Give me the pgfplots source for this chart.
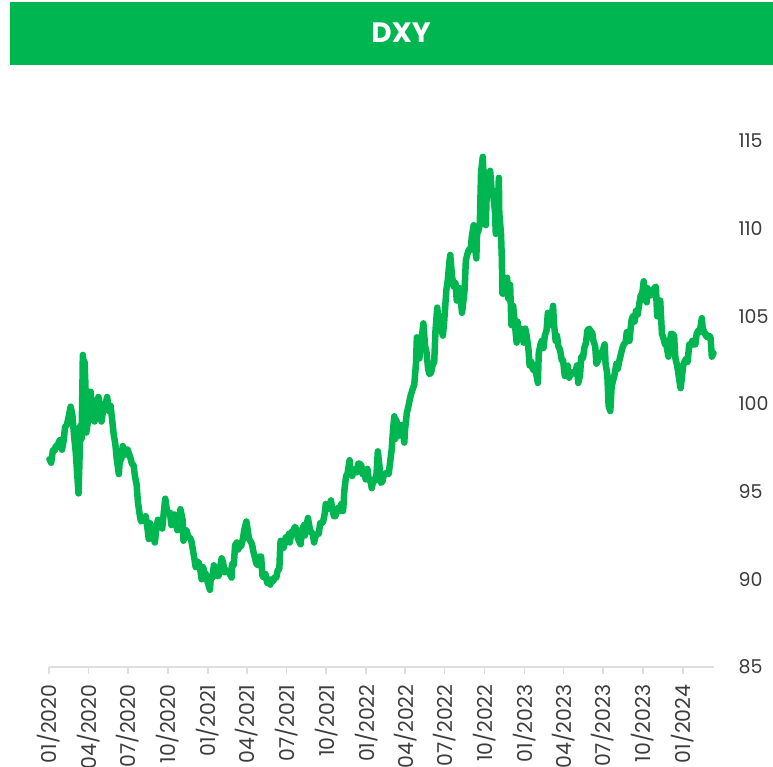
\documentclass[border=0pt]{standalone}
\usepackage{pgfplots}
\pgfplotsset{compat=1.18}
\usepgfplotslibrary{dateplot}
\usepackage{fontspec}
\setmainfont{Poppins}
\definecolor{dxygreen}{RGB}{0,182,80}
\definecolor{ticktext}{RGB}{60,60,60}
\begin{document}
\begin{tikzpicture}[x=1pt,y=1pt]
\useasboundingbox (0,0) rectangle (773,766);
\fill[dxygreen] (10,701) rectangle (773,764);
\node[text=white, font=\fontsize{28}{30}\selectfont\bfseries] at (401,733) {DXY};
\begin{axis}[
  at={(49pt,99pt)}, anchor=south west,
  scale only axis, width=665pt, height=526pt,
  date coordinates in=x, date ZERO=2020-01-01,
  xmin=2020-01-01, xmax=2024-03-13,
  ymin=85, ymax=115,
  axis x line*=bottom, axis y line*=right,
  x axis line style={-, draw=black!13, line width=1.5pt},
  y axis line style={draw=none},
  tick align=outside,
  major tick length=7pt,
  xtick={2020-01-01,2020-04-01,2020-07-01,2020-10-01,2021-01-01,2021-04-01,2021-07-01,2021-10-01,2022-01-01,2022-04-01,2022-07-01,2022-10-01,2023-01-01,2023-04-01,2023-07-01,2023-10-01,2024-01-01},
  xticklabel={\month/\year},
  xtick style={draw=black!13, line width=1.5pt},
  xticklabel style={rotate=90, anchor=east, text=ticktext, font=\fontsize{20.5}{22}\selectfont, xshift=-7pt},
  ytick={85,90,95,100,105,110,115},
  ytick style={draw=none},
  yticklabel style={anchor=west, text=ticktext, font=\fontsize{19}{21}\selectfont, xshift=14pt},
  /pgf/number format/assume math mode=true,
  clip=false,
]
\addplot[dxygreen, line width=6.5pt, line join=round, line cap=round] table {
date val
2020-01-02 96.85
2020-01-06 96.65
2020-01-10 97.36
2020-01-14 97.35
2020-01-17 97.61
2020-01-21 97.55
2020-01-24 97.87
2020-01-28 97.98
2020-01-31 97.39
2020-02-04 97.95
2020-02-07 98.69
2020-02-11 98.80
2020-02-14 99.12
2020-02-20 99.85
2020-02-24 99.35
2020-02-28 98.13
2020-03-03 97.15
2020-03-06 95.99
2020-03-09 94.90
2020-03-11 96.50
2020-03-13 98.75
2020-03-16 98.00
2020-03-18 101.0
2020-03-19 102.8
2020-03-20 102.5
2020-03-23 102.4
2020-03-25 101.1
2020-03-27 98.37
2020-03-31 99.05
2020-04-03 100.6
2020-04-06 100.7
2020-04-09 99.5
2020-04-15 99.0
2020-04-17 99.8
2020-04-21 100.2
2020-04-24 100.4
2020-04-28 99.85
2020-05-01 99.0
2020-05-05 99.7
2020-05-08 99.7
2020-05-14 100.4
2020-05-18 99.6
2020-05-22 99.9
2020-05-26 99.0
2020-05-29 98.3
2020-06-02 97.7
2020-06-05 96.9
2020-06-10 96.0
2020-06-12 96.7
2020-06-16 96.9
2020-06-19 97.6
2020-06-23 97.1
2020-06-26 97.4
2020-06-30 97.4
2020-07-03 97.2
2020-07-07 96.9
2020-07-10 96.6
2020-07-14 96.5
2020-07-17 95.9
2020-07-21 95.4
2020-07-24 94.4
2020-07-28 93.7
2020-07-31 93.3
2020-08-04 93.4
2020-08-07 93.4
2020-08-11 93.6
2020-08-14 93.1
2020-08-18 92.3
2020-08-21 93.2
2020-08-25 93.0
2020-08-28 92.4
2020-09-01 92.1
2020-09-04 92.8
2020-09-08 93.4
2020-09-11 93.3
2020-09-15 93.1
2020-09-18 92.9
2020-09-22 93.9
2020-09-25 94.6
2020-09-29 93.9
2020-10-02 93.8
2020-10-06 93.8
2020-10-09 93.1
2020-10-13 93.5
2020-10-16 93.7
2020-10-20 93.1
2020-10-23 92.8
2020-10-27 93.0
2020-10-30 94.0
2020-11-03 93.5
2020-11-04 93.4
2020-11-06 92.2
2020-11-10 92.7
2020-11-13 92.8
2020-11-17 92.4
2020-11-20 92.4
2020-11-24 92.2
2020-11-27 91.8
2020-12-01 91.2
2020-12-04 90.7
2020-12-08 91.0
2020-12-11 90.98
2020-12-15 90.5
2020-12-18 90.0
2020-12-21 90.7
2020-12-24 90.4
2020-12-28 90.3
2020-12-31 89.9
2021-01-06 89.4
2021-01-08 90.1
2021-01-12 90.1
2021-01-15 90.8
2021-01-19 90.5
2021-01-22 90.2
2021-01-26 90.2
2021-01-29 90.6
2021-02-02 91.2
2021-02-05 91.0
2021-02-09 90.4
2021-02-12 90.5
2021-02-16 90.5
2021-02-19 90.4
2021-02-25 90.1
2021-02-26 90.9
2021-03-02 90.8
2021-03-05 91.95
2021-03-09 92.1
2021-03-12 91.7
2021-03-16 91.9
2021-03-19 91.9
2021-03-23 92.3
2021-03-26 92.8
2021-03-31 93.3
2021-04-02 93.0
2021-04-06 92.3
2021-04-09 92.2
2021-04-13 92.0
2021-04-16 91.6
2021-04-20 91.2
2021-04-23 90.9
2021-04-27 90.8
2021-04-30 91.3
2021-05-04 91.3
2021-05-07 90.2
2021-05-11 90.1
2021-05-14 90.3
2021-05-18 89.8
2021-05-21 90.0
2021-05-25 89.7
2021-05-28 90.0
2021-06-01 89.9
2021-06-04 90.1
2021-06-08 90.1
2021-06-11 90.5
2021-06-15 90.6
2021-06-17 91.9
2021-06-18 92.2
2021-06-22 91.8
2021-06-25 91.8
2021-06-30 92.4
2021-07-02 92.2
2021-07-07 92.6
2021-07-09 92.1
2021-07-13 92.7
2021-07-16 92.7
2021-07-21 93.0
2021-07-23 92.9
2021-07-27 92.4
2021-07-30 92.2
2021-08-03 92.0
2021-08-06 92.8
2021-08-11 93.1
2021-08-13 92.5
2021-08-17 93.1
2021-08-20 93.5
2021-08-24 92.9
2021-08-27 92.7
2021-08-31 92.6
2021-09-03 92.1
2021-09-07 92.5
2021-09-10 92.6
2021-09-14 92.6
2021-09-17 93.2
2021-09-21 93.2
2021-09-24 93.3
2021-09-28 93.8
2021-09-30 94.3
2021-10-05 94.0
2021-10-08 94.1
2021-10-12 94.5
2021-10-15 94.0
2021-10-19 93.6
2021-10-22 93.6
2021-10-26 93.9
2021-10-29 94.1
2021-11-02 93.9
2021-11-05 94.3
2021-11-09 93.9
2021-11-12 95.1
2021-11-16 95.9
2021-11-19 96.0
2021-11-24 96.8
2021-11-26 96.1
2021-11-30 95.9
2021-12-03 96.2
2021-12-07 96.3
2021-12-10 96.1
2021-12-14 96.6
2021-12-17 96.6
2021-12-21 96.5
2021-12-24 96.0
2021-12-28 96.2
2021-12-31 95.7
2022-01-04 96.3
2022-01-07 95.7
2022-01-11 95.6
2022-01-14 95.2
2022-01-18 95.7
2022-01-21 95.6
2022-01-25 96.0
2022-01-28 97.3
2022-02-01 96.4
2022-02-04 95.5
2022-02-08 95.6
2022-02-11 96.0
2022-02-15 96.0
2022-02-18 96.1
2022-02-22 96.0
2022-02-25 96.6
2022-03-01 97.4
2022-03-04 98.5
2022-03-07 99.3
2022-03-09 98.0
2022-03-11 99.1
2022-03-15 98.8
2022-03-18 98.2
2022-03-22 98.5
2022-03-25 98.8
2022-03-30 97.8
2022-04-01 98.6
2022-04-05 99.5
2022-04-08 99.8
2022-04-12 100.3
2022-04-14 100.5
2022-04-19 100.9
2022-04-22 101.1
2022-04-26 102.3
2022-04-28 103.8
2022-05-02 103.6
2022-05-04 102.6
2022-05-06 103.7
2022-05-10 103.9
2022-05-13 104.6
2022-05-17 103.3
2022-05-20 103.0
2022-05-24 102.0
2022-05-27 101.7
2022-05-31 101.8
2022-06-03 102.2
2022-06-07 102.4
2022-06-10 104.2
2022-06-14 105.5
2022-06-17 104.7
2022-06-21 104.4
2022-06-24 104.2
2022-06-27 103.9
2022-06-30 104.7
2022-07-05 106.5
2022-07-08 107.0
2022-07-12 108.1
2022-07-14 108.5
2022-07-18 107.3
2022-07-22 106.7
2022-07-26 106.9
2022-07-29 105.9
2022-08-02 106.2
2022-08-05 106.6
2022-08-10 105.2
2022-08-12 105.6
2022-08-16 106.5
2022-08-19 108.2
2022-08-23 108.6
2022-08-26 108.8
2022-08-30 108.8
2022-09-02 109.6
2022-09-06 110.2
2022-09-09 109.0
2022-09-12 108.3
2022-09-14 109.8
2022-09-16 109.8
2022-09-20 110.2
2022-09-23 113.2
2022-09-27 114.1
2022-09-30 112.1
2022-10-04 110.2
2022-10-07 112.8
2022-10-11 113.2
2022-10-13 112.5
2022-10-14 113.3
2022-10-18 112.0
2022-10-21 111.9
2022-10-25 111.0
2022-10-27 109.7
2022-10-28 110.8
2022-11-01 111.5
2022-11-03 112.9
2022-11-04 110.9
2022-11-08 109.7
2022-11-10 108.2
2022-11-11 106.3
2022-11-15 106.3
2022-11-18 106.9
2022-11-22 107.2
2022-11-25 106.0
2022-11-29 106.8
2022-12-02 104.5
2022-12-06 105.6
2022-12-09 104.8
2022-12-14 103.5
2022-12-16 104.7
2022-12-20 104.0
2022-12-23 104.3
2022-12-27 104.2
2022-12-30 103.5
2023-01-03 104.3
2023-01-06 103.9
2023-01-10 103.2
2023-01-13 102.2
2023-01-17 102.4
2023-01-20 102.0
2023-01-24 101.9
2023-01-27 101.9
2023-02-01 101.2
2023-02-03 102.9
2023-02-07 103.4
2023-02-10 103.6
2023-02-14 103.2
2023-02-17 103.9
2023-02-21 104.2
2023-02-24 105.2
2023-02-28 104.9
2023-03-03 104.5
2023-03-08 105.6
2023-03-10 104.6
2023-03-14 103.6
2023-03-17 103.9
2023-03-20 103.3
2023-03-24 103.1
2023-03-28 102.5
2023-03-31 102.5
2023-04-04 101.6
2023-04-07 102.1
2023-04-11 102.2
2023-04-14 101.5
2023-04-18 101.7
2023-04-21 101.8
2023-04-25 101.8
2023-04-28 101.7
2023-05-02 102.2
2023-05-05 101.2
2023-05-09 101.6
2023-05-12 102.7
2023-05-16 102.6
2023-05-19 103.2
2023-05-23 103.5
2023-05-26 104.2
2023-05-31 104.3
2023-06-02 104.0
2023-06-06 104.1
2023-06-09 103.6
2023-06-13 103.3
2023-06-16 102.3
2023-06-20 102.5
2023-06-23 102.9
2023-06-27 102.7
2023-06-30 103.0
2023-07-05 103.4
2023-07-07 102.3
2023-07-11 101.7
2023-07-14 99.9
2023-07-18 99.6
2023-07-21 101.0
2023-07-25 101.4
2023-07-28 101.7
2023-08-01 102.3
2023-08-04 102.0
2023-08-08 102.5
2023-08-11 102.8
2023-08-15 103.2
2023-08-18 103.4
2023-08-22 103.5
2023-08-25 104.1
2023-08-29 103.6
2023-08-31 103.6
2023-09-05 104.8
2023-09-08 105.0
2023-09-12 104.7
2023-09-15 105.3
2023-09-19 105.1
2023-09-22 105.6
2023-09-26 106.2
2023-09-29 106.2
2023-10-03 107.0
2023-10-06 106.0
2023-10-10 105.8
2023-10-12 106.6
2023-10-17 106.2
2023-10-20 106.2
2023-10-24 106.3
2023-10-27 106.6
2023-10-31 106.7
2023-11-03 105.0
2023-11-07 105.6
2023-11-10 105.9
2023-11-14 104.0
2023-11-17 103.8
2023-11-21 103.4
2023-11-24 103.4
2023-11-29 102.7
2023-12-01 103.3
2023-12-05 104.0
2023-12-08 104.0
2023-12-12 103.9
2023-12-15 102.6
2023-12-19 102.2
2023-12-22 101.7
2023-12-27 100.9
2023-12-29 101.3
2024-01-02 102.2
2024-01-05 102.4
2024-01-09 102.6
2024-01-12 102.4
2024-01-16 103.4
2024-01-19 103.3
2024-01-23 103.6
2024-01-26 103.4
2024-01-30 103.4
2024-02-02 104.0
2024-02-06 104.2
2024-02-09 104.1
2024-02-14 104.9
2024-02-16 104.3
2024-02-20 104.1
2024-02-23 103.9
2024-02-27 103.8
2024-03-01 103.9
2024-03-05 103.8
2024-03-08 102.7
2024-03-12 102.9
};
\end{axis}
\end{tikzpicture}
\end{document}
